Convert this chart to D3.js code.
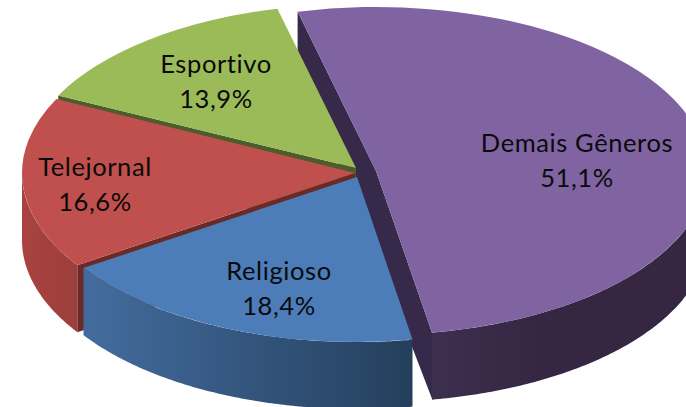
<!DOCTYPE html>
<html>
<head>
<meta charset="utf-8">
<script src="https://cdn.jsdelivr.net/npm/d3@7"></script>
<style>
html, body { margin: 0; padding: 0; background: #fff; }
svg { display: block; }
text { font-family: Lato, "Open Sans", sans-serif; font-size: 25.5px; letter-spacing: 0.6px; fill: #0a0a0a; text-anchor: middle; }
</style>
</head>
<body>
<svg id="chart" width="686" height="407"></svg>
<script>
const categories = ["Demais Gêneros", "Religioso", "Telejornal", "Esportivo"];
const shares = [51.1, 18.4, 16.6, 13.9];
const shareLabels = ["51,1%", "18,4%", "16,6%", "13,9%"];

const topColors = ["#8064a2", "#4c7db9", "#c0504d", "#9bbb59"];
const cutColors = ["#37294a", "#2a4363", "#6a2a28", "#4d5c2b"];

// ellipse of each slice's top face: the picture is a tilted, slightly exploded pie
const centers = [[376, 171], [357, 177], [355, 173], [356, 168]];
const radii = [[331, 164], [328, 165], [333, 167], [332, 164]];
const labelPos = [[577, 152], [279, 280], [95, 176], [216, 73]];
const depth = 67;
const startDeg = -13.7;
const arcRadius = 1000; // big radius so d3's rounded path stays accurate when scaled

const svg = d3.select("#chart");
const defs = svg.append("defs");

function addGradient(id, x1, x2, c1, c2) {
    const grad = defs.append("linearGradient")
        .attr("id", id)
        .attr("gradientUnits", "userSpaceOnUse")
        .attr("x1", x1).attr("x2", x2).attr("y1", 0).attr("y2", 0);
    grad.append("stop").attr("offset", 0).attr("stop-color", c1);
    grad.append("stop").attr("offset", 1).attr("stop-color", c2);
}
addGradient("wall0", 430, 540, "#3d2f4e", "#352742");
addGradient("wall1", 85, 413, "#436c9e", "#243f5c");
addGradient("wall2", 23, 78, "#a8423f", "#9c3f3c");

const pie = d3.pie()
    .sort(null)
    .startAngle(startDeg * Math.PI / 180)
    .endAngle((startDeg + 360) * Math.PI / 180);
const arcs = pie(shares);
const bigArc = d3.arc().innerRadius(0).outerRadius(arcRadius);

function rimPoint(i, a) {
    return [
        centers[i][0] + radii[i][0] * Math.sin(a),
        centers[i][1] - radii[i][1] * Math.cos(a)
    ];
}

function drawCut(i, a, fill) {
    const p = rimPoint(i, a);
    const c = centers[i];
    svg.append("path")
        .attr("fill", fill)
        .attr("d", d3.line()([c, p, [p[0], p[1] + depth], [c[0], c[1] + depth]]) + "Z");
}

function drawOuterWall(i) {
    const a0 = Math.max(arcs[i].startAngle, Math.PI / 2);
    const a1 = Math.min(arcs[i].endAngle, 3 * Math.PI / 2);
    const steps = d3.range(0, 121).map(k => a0 + (a1 - a0) * k / 120);
    const area = d3.area()
        .x(a => rimPoint(i, a)[0])
        .y0(a => rimPoint(i, a)[1])
        .y1(a => rimPoint(i, a)[1] + depth);
    svg.append("path").attr("fill", `url(#wall${i})`).attr("d", area(steps));
}

function drawTop(i) {
    svg.append("path")
        .attr("fill", topColors[i])
        .attr("transform", `translate(${centers[i]}) scale(${radii[i][0] / arcRadius},${radii[i][1] / arcRadius})`)
        .attr("d", bigArc(arcs[i]));
}

// purple cut faces sit behind everything else
const purpleStart = rimPoint(0, arcs[0].startAngle);
const purpleEnd = rimPoint(0, arcs[0].endAngle);
const lowApex = [centers[0][0] - 21, centers[0][1] + 27];
svg.append("path").attr("fill", cutColors[0])
    .attr("d", d3.line()([
        purpleStart, centers[0], purpleEnd,
        [purpleEnd[0], purpleEnd[1] + depth - 1], lowApex,
        [purpleStart[0], purpleStart[1] + depth]
    ]) + "Z");

// back to front: green, red, blue, purple
drawCut(3, arcs[3].startAngle, cutColors[3]);
drawTop(3);
drawCut(2, arcs[2].startAngle, cutColors[2]);
drawOuterWall(2);
drawTop(2);
drawOuterWall(1);
drawTop(1);
drawOuterWall(0);
drawTop(0);

categories.forEach((name, i) => {
    const g = svg.append("g");
    g.append("text").attr("x", labelPos[i][0]).attr("y", labelPos[i][1]).text(name);
    g.append("text").attr("x", labelPos[i][0]).attr("y", labelPos[i][1] + 35).text(shareLabels[i]);
});
</script>
</body>
</html>
